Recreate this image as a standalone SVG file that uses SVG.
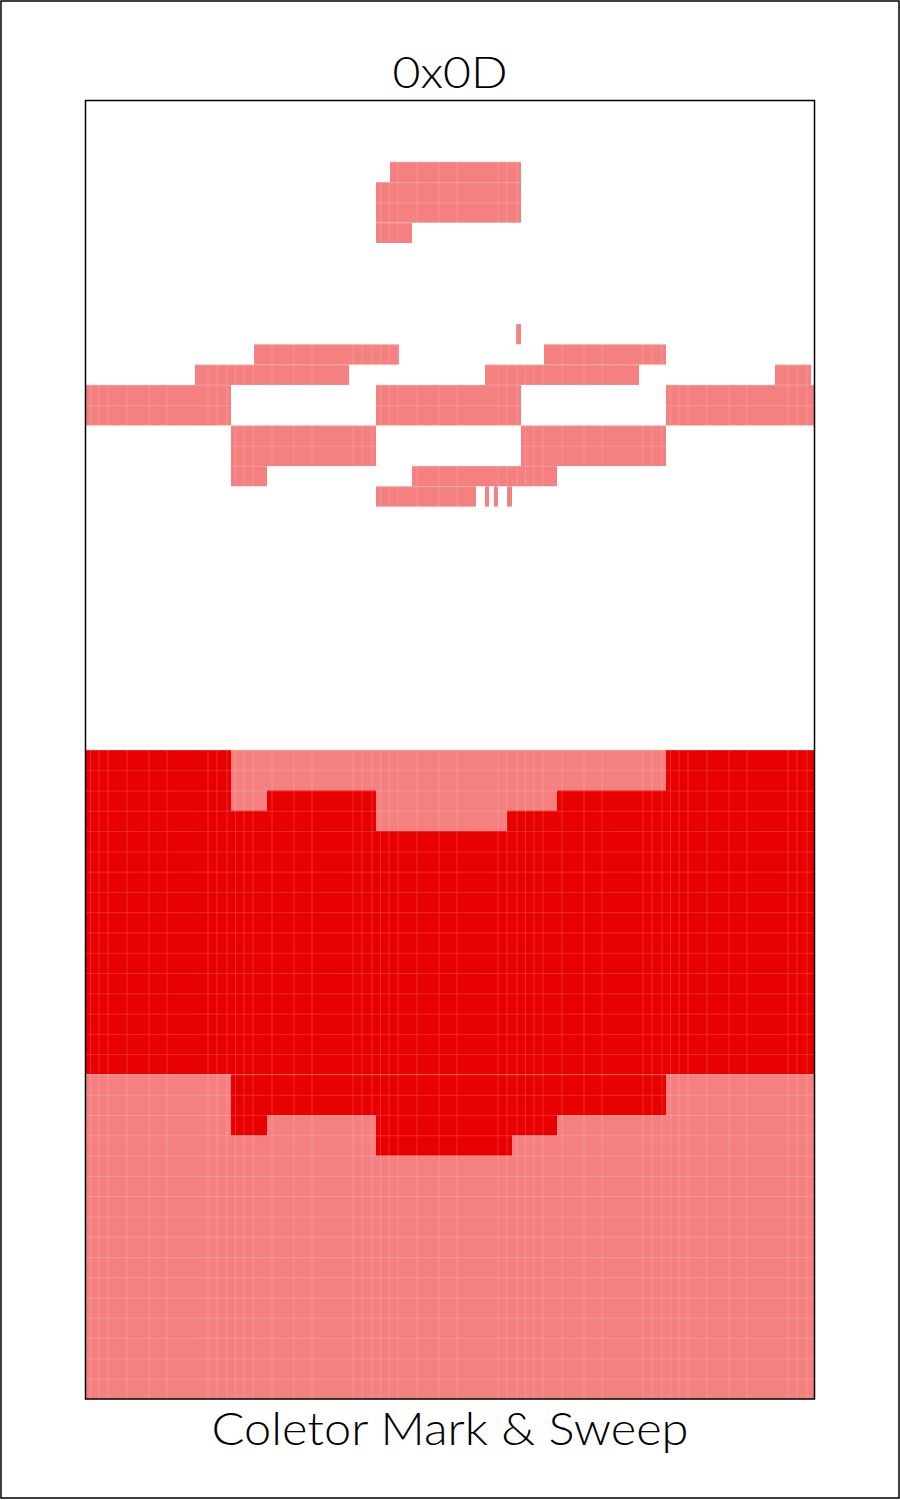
<svg xmlns="http://www.w3.org/2000/svg" width="900" height="1500" viewBox="0 0 900 1500">
  <style>
    .pink { fill: #F48080; }
    .red { fill: #E80000; }
    .lbl { font-family: Lato, "Liberation Sans", sans-serif; font-weight: 300; fill: #000; text-anchor: middle; }
  </style>
  <defs>
    <pattern id="grid" patternUnits="userSpaceOnUse" x="86" y="101" width="145" height="20.28">
      <g stroke="#fff" stroke-opacity="0.16" stroke-width="1" fill="none">
        <line x1="0" y1="0.5" x2="145" y2="0.5"/>
        <line x1="4.5" y1="0" x2="4.5" y2="20.28"/>
        <line x1="13" y1="0" x2="13" y2="20.28"/>
        <line x1="22" y1="0" x2="22" y2="20.28"/>
        <line x1="41" y1="0" x2="41" y2="20.28"/>
        <line x1="63" y1="0" x2="63" y2="20.28"/>
        <line x1="81" y1="0" x2="81" y2="20.28"/>
        <line x1="122" y1="0" x2="122" y2="20.28"/>
        <line x1="131" y1="0" x2="131" y2="20.28"/>
        <line x1="141" y1="0" x2="141" y2="20.28"/>
      </g>
    </pattern>
  </defs>
  <rect x="1" y="1" width="898" height="1497" fill="#fff" stroke="#000" stroke-width="1.5"/>
  <text class="lbl" x="450" y="88" font-size="44" textLength="115" lengthAdjust="spacingAndGlyphs">0x0D</text>

  <g id="top-blocks" class="pink">
    <rect x="390" y="161.84" width="131" height="20.28"/>
    <rect x="376" y="182.12" width="145" height="40.56"/>
    <rect x="376" y="222.68" width="36" height="20.28"/>
    <rect x="516" y="324.08" width="5" height="20.28"/>
    <rect x="254" y="344.36" width="145" height="20.28"/>
    <rect x="544" y="344.36" width="122" height="20.28"/>
    <rect x="195" y="364.64" width="154" height="20.28"/>
    <rect x="485" y="364.64" width="154" height="20.28"/>
    <rect x="775" y="364.64" width="36" height="20.28"/>
    <rect x="86" y="384.92" width="145" height="40.56"/>
    <rect x="376" y="384.92" width="145" height="40.56"/>
    <rect x="666" y="384.92" width="148" height="40.56"/>
    <rect x="231" y="425.48" width="145" height="40.56"/>
    <rect x="521" y="425.48" width="145" height="40.56"/>
    <rect x="231" y="466.04" width="36" height="20.28"/>
    <rect x="412" y="466.04" width="145" height="20.28"/>
    <rect x="376" y="486.32" width="100" height="20.28"/>
    <rect x="485" y="486.32" width="4" height="20.28"/>
    <rect x="494" y="486.32" width="4" height="20.28"/>
    <rect x="507" y="486.32" width="5" height="20.28"/>
  </g>

  <g id="bottom-blocks">
    <rect class="red" x="86" y="749.96" width="728" height="324.48"/>
    <polygon class="pink" points="231,749.96 666,749.96 666,790.52 557,790.52 557,810.8 507,810.8 507,831.08 376,831.08 376,790.52 267,790.52 267,810.8 231,810.8"/>
    <rect class="pink" x="86" y="1074.44" width="728" height="324.48"/>
    <polygon class="red" points="231,1074.44 666,1074.44 666,1115 557,1115 557,1135.28 512,1135.28 512,1155.56 376,1155.56 376,1115 267,1115 267,1135.28 231,1135.28"/>
  </g>

  <rect x="86" y="101" width="728" height="1298" fill="url(#grid)"/>
  <rect x="85.5" y="100.5" width="729" height="1298.5" fill="none" stroke="#000" stroke-width="1.5"/>

  <text class="lbl" x="450" y="1445" font-size="46" textLength="477" lengthAdjust="spacingAndGlyphs">Coletor Mark &amp; Sweep</text>
</svg>
